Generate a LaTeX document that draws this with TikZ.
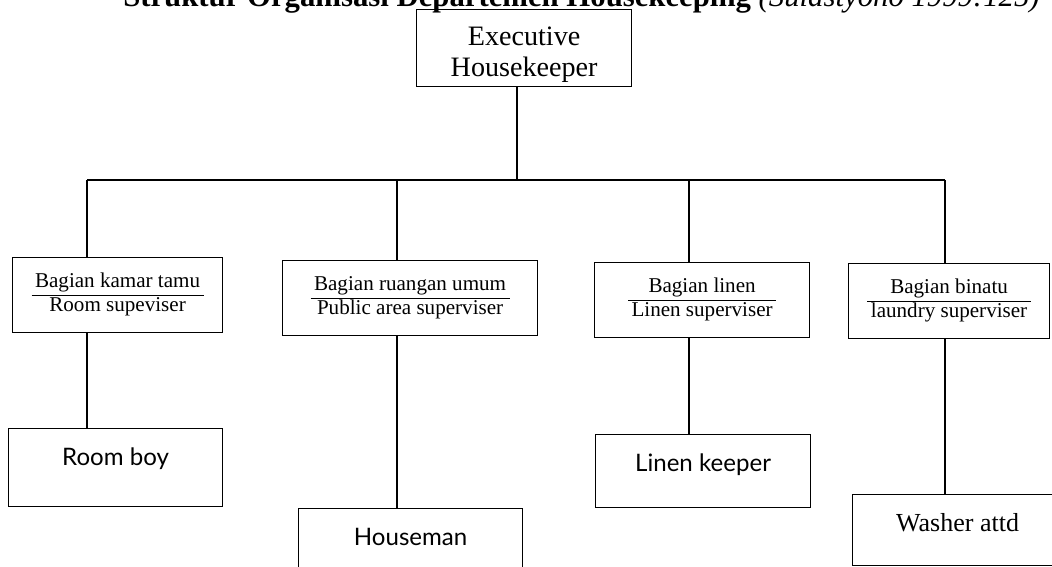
\documentclass[tikz,border=0pt]{standalone}
\usepackage{fontspec}
\setmainfont{Liberation Serif}
\newfontfamily\leaffont{Lato}
\usetikzlibrary{positioning}
\setlength{\arrayrulewidth}{0.6pt}

\newcommand{\splitlabel}[2]{\begin{tabular}{@{\hspace{2pt}}c@{\hspace{2pt}}}#1\\\hline #2\end{tabular}}

\begin{document}
\begin{tikzpicture}[
        x=0.02cm, y=-0.02cm,
        every node/.style={inner sep=0pt},
        link/.style={line width=0.7pt},
        headbox/.style={draw, line width=0.7pt, minimum width=4.3cm, align=center, font=\fontsize{16}{17.5}\selectfont, text height=38pt, text depth=5.7pt},
        superbox/.style={draw, line width=0.7pt, minimum height=1.5cm, font=\fontsize{12}{12.5}\selectfont},
        leafbox/.style={draw, line width=0.7pt, font=\leaffont\fontsize{13.7}{16}\selectfont, text height=20.9pt},
        caption/.style={font=\fontsize{17.5}{20}\selectfont}
    ]
        \useasboundingbox (0,0) rectangle (1052,567);
        \clip (0,0) rectangle (1052,567);

        \node[caption, anchor=base east] (title) at (1040,7) {\textbf{Struktur Organisasi Departemen Housekeeping} \textit{(Sulastyono 1999:125)}};

        \node[headbox, anchor=north west] (exec) at (416,9) {Executive\\Housekeeper};

        \node[superbox, minimum width=4.2cm, anchor=north west] (kamar) at (12,257) {\splitlabel{Bagian kamar tamu}{Room supeviser}};
        \node[superbox, minimum width=5.1cm, anchor=north west] (umum) at (282,260) {\splitlabel{Bagian ruangan umum}{Public area superviser}};
        \node[superbox, minimum width=4.3cm, anchor=north west] (linen) at (594,262) {\splitlabel{Bagian linen}{Linen superviser}};
        \node[superbox, minimum width=4.02cm, anchor=north west] (binatu) at (848,263) {\splitlabel{Bagian binatu}{laundry superviser}};

        \node[leafbox, minimum width=4.28cm, text depth=23.5pt, anchor=north west] (roomboy) at (8,428) {Room boy};
        \node[leafbox, minimum width=4.48cm, text depth=21.8pt, anchor=north west] (houseman) at (298,508) {Houseman};
        \node[leafbox, minimum width=4.3cm, text depth=20.6pt, anchor=north west] (linenkeeper) at (595,434) {Linen keeper};
        \node[leafbox, minimum width=4.2cm, text depth=19.5pt, anchor=north west, font=\fontsize{14.8}{17}\selectfont] (washer) at (852,494) {Washer attd};

        % bus under the executive housekeeper
        \coordinate (top) at (517,180);
        \coordinate (d1) at (87,180);
        \coordinate (d2) at (397,180);
        \coordinate (d3) at (689,180);
        \coordinate (d4) at (945,180);

        \draw[link] (exec.south -| top) -- (top);
        \draw[link] (d1) -- (d4);
        \foreach \d/\b in {d1/kamar, d2/umum, d3/linen, d4/binatu}
            \draw[link] (\d) -- (\b.north -| \d);
        \foreach \d/\b/\c in {d1/kamar/roomboy, d2/umum/houseman, d3/linen/linenkeeper, d4/binatu/washer}
            \draw[link] (\b.south -| \d) -- (\c.north -| \d);
    \end{tikzpicture}
\end{document}
